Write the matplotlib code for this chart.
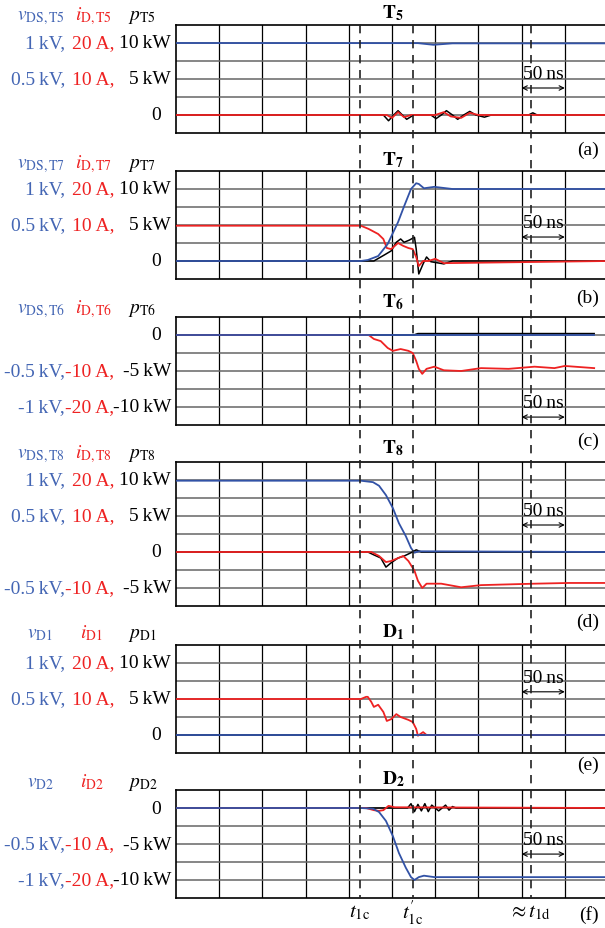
import numpy as np
import matplotlib.pyplot as plt
from matplotlib.lines import Line2D
from matplotlib import transforms

plt.rcParams['font.family'] = ['Liberation Serif', 'DejaVu Serif']
plt.rcParams['mathtext.fontset'] = 'stix'

# ---- waveforms: time in ns, v in V, i in A, p in kW ----
# (a) T5
t_v_T5 = [0, 280, 298, 320, 500]
v_T5 = [1000, 998, 975, 995, 995]
t_i_T5 = [0, 244, 250, 257, 264, 272, 300, 310, 318, 330, 340, 350, 500]
i_T5 = [0, 0, -0.8, 0.8, -0.6, 0, 0, 0.8, -0.4, -0.8, 0.6, 0, 0]
t_p_T5 = [0, 240, 246, 252, 257, 262, 267, 275, 295, 301, 307, 313, 320, 326, 333, 340, 347, 357, 365, 408, 413, 418, 500]
p_T5 = [0, 0, -0.8, 0, 0.6, 0, -0.6, 0, 0, -0.5, 0, 0.6, 0, -0.6, 0, 0.5, 0, -0.3, 0, 0, 0.3, 0, 0]

# (b) T7
t_v_T7 = [0, 214, 222, 234, 245, 257, 264, 272, 278, 281, 287, 299, 320, 500]
v_T7 = [0, 0, 14, 69, 236, 540, 760, 1000, 1080, 1070, 1010, 1030, 1000, 1000]
t_i_T7 = [0, 214, 223, 234, 240, 244, 249, 257, 263, 269, 274, 278, 281, 286, 292, 300, 310, 500]
i_T7 = [9.8, 9.8, 8.9, 7.5, 6.1, 3.6, 3.3, 5.0, 4.2, 3.6, 3.3, 1.1, -1.4, 0, 0, 0.6, -0.6, 0]
t_p_T7 = [0, 222, 229, 241, 249, 255, 260, 264, 270, 276, 278, 281, 286, 290, 295, 310, 320, 500]
p_T7 = [0, 0, 0, 0.83, 1.4, 2.6, 3.06, 2.6, 2.9, 3.3, 1.67, -1.8, -0.4, 0.56, -0.1, -0.4, 0, 0]

# (c) T6
t_v_T6 = [0, 484]
v_T6 = [0, 0]
t_i_T6 = [0, 214, 223, 229, 237, 245, 251, 260, 269, 274, 278, 281, 285, 290, 299, 310, 330, 353, 385, 415, 438, 450, 484]
i_T6 = [0, 0, 0, -1.1, -1.7, -3.6, -4.4, -3.9, -4.4, -5.0, -7.2, -9.4, -10.8, -9.4, -8.8, -9.8, -10.0, -9.2, -9.4, -8.8, -9.2, -8.6, -9.2]
t_p_T6 = [0, 275, 280, 484]
p_T6 = [0, 0, 0.2, 0.2]

# (d) T8
t_v_T8 = [0, 214, 228, 235, 243, 251, 258, 266, 272, 276, 281, 500]
v_T8 = [990, 990, 970, 920, 790, 610, 400, 220, 56, -10, 10, 0]
t_i_T8 = [0, 220, 226, 235, 243, 249, 257, 263, 269, 276, 280, 285, 290, 307, 330, 353, 415, 455, 500]
i_T8 = [0, 0, 0, -1.1, -2.8, -2.5, -1.7, -1.1, -2.5, -5.2, -8.0, -10.0, -8.8, -8.8, -9.8, -9.2, -8.8, -8.6, -8.6]
t_p_T8 = [0, 222, 229, 237, 243, 249, 257, 264, 272, 278, 284, 500]
p_T8 = [0, 0, -0.4, -0.83, -2.1, -1.5, -0.83, -0.56, -0.1, 0.3, 0, 0]

# (e) D1
t_v_D1 = [0, 500]
v_D1 = [0, 0]
t_i_D1 = [0, 214, 220, 222, 226, 229, 234, 240, 244, 249, 255, 260, 269, 274, 278, 280, 286, 290, 500]
i_D1 = [10.0, 10.0, 10.6, 10.6, 9.2, 7.8, 8.4, 6.4, 3.9, 4.4, 5.8, 5.0, 4.2, 3.6, 1.7, -0.2, 0.8, 0, 0]
t_p_D1 = [0, 500]
p_D1 = [0, 0]

# (f) D2
t_v_D2 = [0, 214, 228, 235, 243, 251, 258, 266, 272, 276, 281, 287, 299, 500]
v_D2 = [0, 0, -10, -56, -180, -390, -625, -830, -960, -1000, -960, -940, -960, -960]
t_i_D2 = [0, 220, 229, 235, 240, 246, 253, 500]
i_D2 = [0, 0, -0.6, -0.8, -0.6, 0.6, 0.2, 0]
t_p_D2 = [0, 268, 272, 276, 280, 284, 288, 292, 296, 300, 304, 312, 316, 320, 324, 500]
p_D2 = [0, 0, 0.6, -0.5, 0.5, -0.4, 0.6, -0.5, 0.4, 0, -0.4, 0.4, -0.3, 0.2, 0, 0]

names = ['T5', 'T7', 'T6', 'T8', 'D1', 'D2']
titles = [r'$\mathbf{T}_{\mathbf{5}}$', r'$\mathbf{T}_{\mathbf{7}}$', r'$\mathbf{T}_{\mathbf{6}}$',
          r'$\mathbf{T}_{\mathbf{8}}$', r'$\mathbf{D}_{\mathbf{1}}$', r'$\mathbf{D}_{\mathbf{2}}$']
letters = ['(a)', '(b)', '(c)', '(d)', '(e)', '(f)']
v_data = [(t_v_T5, v_T5), (t_v_T7, v_T7), (t_v_T6, v_T6), (t_v_T8, v_T8), (t_v_D1, v_D1), (t_v_D2, v_D2)]
i_data = [(t_i_T5, i_T5), (t_i_T7, i_T7), (t_i_T6, i_T6), (t_i_T8, i_T8), (t_i_D1, i_D1), (t_i_D2, i_D2)]
p_data = [(t_p_T5, p_T5), (t_p_T7, p_T7), (t_p_T6, p_T6), (t_p_T8, p_T8), (t_p_D1, p_D1), (t_p_D2, p_D2)]

TS = '\u2009'
tick_pos = [[10, 5, 0], [10, 5, 0], [0, -5, -10], [10, 5, 0, -5], [10, 5, 0], [0, -5, -10]]
tick_text = {10: ('1' + TS + 'kV,', '20' + TS + 'A,', '10' + TS + 'kW'),
             5: ('0.5' + TS + 'kV,', '10' + TS + 'A,', '5' + TS + 'kW'),
             -5: ('-0.5' + TS + 'kV,', '-10' + TS + 'A,', '-5' + TS + 'kW'),
             -10: ('-1' + TS + 'kV,', '-20' + TS + 'A,', '-10' + TS + 'kW')}

t_markers = [213, 274, 411]

BLUE = '#3252a6'
RED = '#ee2222'
TBLUE = '#4466b4'

W, H = 605, 929
fig = plt.figure(figsize=(W / 100, H / 100), dpi=100)

def fx(px):
    return px / W

def fy(px):
    return 1 - px / H

# layout (pixel rows) and y-limits in grid units (1 div = 2.5)
boxes = [(26, 134), (172, 280), (318, 426), (463, 607), (646, 754), (791, 899)]
ylims = [(-2.5, 12.5), (-2.5, 12.5), (-12.5, 2.5), (-7.5, 12.5), (-2.5, 12.5), (-12.5, 2.5)]
head_y = [20, 168, 313, 458, 638, 787]
title_y = [18, 165, 307, 453, 637, 784]
letter_y = [150, 298, 441, 622, 765, 915]
arrow_y = [3.75, 3.33, -11.4, 3.75, 6.0, -6.4]
short = [False, False, False, False, True, True]

axes = []
for k, name in enumerate(names):
    top, bot = boxes[k]
    ax = fig.add_axes([fx(176), fy(bot), fx(432), (bot - top) / H])
    axes.append(ax)
    lo, hi = ylims[k]
    ax.set_xlim(0, 500)
    ax.set_ylim(lo, hi)
    ax.set_xticks([])
    ax.set_yticks([])
    for x in range(50, 500, 50):
        ax.axvline(x, color='black', lw=0.9, zorder=0)
    for y in np.arange(lo + 2.5, hi, 2.5):
        ax.axhline(y, color='#666666', lw=1.1, zorder=0)
    for s in ['top', 'left', 'bottom']:
        ax.spines[s].set_linewidth(1.2)
    ax.spines['right'].set_visible(False)

    tp, pp = p_data[k]
    ti, ii = i_data[k]
    tv, vv = v_data[k]
    ax.plot(tp, pp, color='black', lw=1.1, zorder=3)
    ax.plot(ti, np.array(ii) / 2, color=RED, lw=1.3, zorder=4)
    ax.plot(tv, np.array(vv) / 100, color=BLUE, lw=1.3, zorder=5)

    # 50 ns scale
    ay = arrow_y[k]
    ax.annotate('', xy=(400, ay), xytext=(450, ay),
                arrowprops=dict(arrowstyle='<->', color='black', lw=0.8, shrinkA=0, shrinkB=0,
                                mutation_scale=8))
    ax.text(425, ay + 2.0, '50' + TS + 'ns', ha='center', va='center', fontsize=14)

    # left labels
    tr = transforms.blended_transform_factory(fig.transFigure, ax.transData)
    for yv in tick_pos[k]:
        if yv == 0:
            ax.text(fx(161), 0, '0', transform=tr, ha='right', va='center', fontsize=14)
        else:
            a, b, c = tick_text[yv]
            ax.text(fx(65), yv, a, transform=tr, ha='right', va='center', fontsize=14, color=TBLUE)
            ax.text(fx(114), yv, b, transform=tr, ha='right', va='center', fontsize=14, color=RED)
            ax.text(fx(171), yv, c, transform=tr, ha='right', va='center', fontsize=14)

    # header
    hy = fy(head_y[k])
    if short[k]:
        fig.text(fx(27), hy, r'$v_{\mathrm{%s}}$' % name, color=TBLUE, fontsize=14, va='baseline')
        fig.text(fx(80), hy, r'$i_{\mathrm{%s}}$' % name, color=RED, fontsize=14, va='baseline')
    else:
        fig.text(fx(17), hy, r'$v_{\mathrm{DS,%s}}$' % name, color=TBLUE, fontsize=14, va='baseline')
        fig.text(fx(75), hy, r'$i_{\mathrm{D,%s}}$' % name, color=RED, fontsize=14, va='baseline')
    fig.text(fx(128), hy, r'$p_{\mathrm{%s}}$' % name, color='black', fontsize=14, va='baseline')

    fig.text(fx(393), fy(title_y[k]), titles[k], ha='center', va='baseline', fontsize=14)
    fig.text(fx(599), fy(letter_y[k]), letters[k], ha='right', va='center', fontsize=14)

# dashed time markers across all panels
trm = transforms.blended_transform_factory(axes[0].transData, fig.transFigure)
for tm in t_markers:
    fig.add_artist(Line2D([tm, tm], [fy(26), fy(899)], transform=trm, color='#222222',
                          lw=1.2, linestyle=(0, (5, 4)), zorder=1))

# time labels under the last panel
trb = transforms.blended_transform_factory(axes[-1].transData, fig.transFigure)
fig.text(t_markers[0], fy(913), r'$t_{\mathrm{1c}}$', transform=trb, ha='center', va='center', fontsize=15)
fig.text(t_markers[1], fy(913), r'$t^{\prime}_{\mathrm{1c}}$', transform=trb, ha='center', va='center', fontsize=15)
fig.text(t_markers[2] - 2, fy(913), r'$\approx t_{\mathrm{1d}}$', transform=trb, ha='center', va='center', fontsize=15)

fig.savefig('out.png', dpi=100)
